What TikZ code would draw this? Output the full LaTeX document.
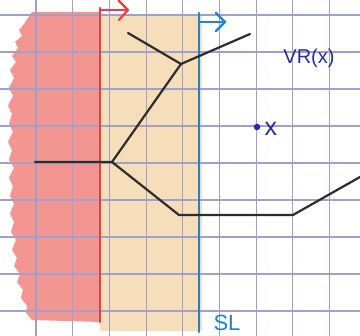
\documentclass[tikz,border=0pt]{standalone}
\usepackage{fontspec}
\setmainfont{Liberation Sans}
\definecolor{gridc}{RGB}{160,160,205}
\definecolor{redfill}{RGB}{243,150,145}
\definecolor{redline}{RGB}{238,60,70}
\definecolor{orfill}{RGB}{247,222,186}
\definecolor{blueline}{RGB}{25,135,210}
\definecolor{inkblue}{RGB}{35,45,165}
\definecolor{pencil}{RGB}{45,45,45}
\tikzset{
  gridline/.style={draw=gridc, line width=1.1pt},
  wall/.style={line width=2.2pt, line cap=round, line join=round},
  bisector/.style={draw=pencil, line width=2.2pt, line cap=round, line join=round},
  lbl/.style={inner sep=0pt, anchor=center}
}
\begin{document}
\begin{tikzpicture}[x=1pt,y=-1pt]
\useasboundingbox (0,0) rectangle (360,336);
\fill[white] (0,0) rectangle (360,336);
% orange region
\fill[orfill] (100,14) rectangle (202,331);
% red region with ragged left edge
\fill[redfill] (100,12) -- (32,12) -- (28,18) -- (24,24) -- (19,30) -- (22,36) -- (15,42) -- (18,48)
  -- (12,56) -- (16,62) -- (10,70) -- (14,78) -- (9,88) -- (13,96) -- (8,106) -- (12,114)
  -- (9,124) -- (13,132) -- (8,142) -- (12,150) -- (9,160) -- (14,168) -- (9,178) -- (13,186)
  -- (10,196) -- (14,204) -- (10,214) -- (14,222) -- (11,232) -- (16,240) -- (12,250)
  -- (17,258) -- (14,266) -- (20,274) -- (17,282) -- (23,290) -- (21,298) -- (27,306)
  -- (26,313) -- (32,320) -- (100,322) -- cycle;
% grid
\foreach \i in {0,...,9} {\draw[gridline] ({36+36.7*\i},0) -- ({36+36.7*\i},336);}
\foreach \j in {0,...,8} {\draw[gridline] (0,{15+37*\j}) -- (360,{15+37*\j});}
% red wall with arrow
\coordinate (rb) at (100,322);
\coordinate (rt) at (100,8);
\coordinate (ra) at (100,10);
\coordinate (rh) at (128,10);
\coordinate (rh1) at (119,1);
\coordinate (rh2) at (119,20);
\draw[wall, redline] (rb) -- (rt);
\draw[wall, redline] (ra) -- (rh);
\draw[wall, redline] (rh1) -- (rh) -- (rh2);
% blue sweep line with arrow
\coordinate (bb) at (199,332);
\coordinate (bt) at (199,13);
\coordinate (ba) at (199,22);
\coordinate (bh) at (225,22);
\coordinate (bh1) at (216,13);
\coordinate (bh2) at (216,31);
\draw[wall, blueline] (bb) -- (bt);
\draw[wall, blueline] (ba) -- (bh);
\draw[wall, blueline] (bh1) -- (bh) -- (bh2);
% beach line / bisectors
\coordinate (p1) at (128,33);
\coordinate (v1) at (181,64);
\coordinate (p2) at (250,34);
\coordinate (v2) at (112,162);
\coordinate (p3) at (35,162);
\coordinate (v3) at (179,215);
\coordinate (v4) at (293,215);
\coordinate (p4) at (360,177);
\draw[bisector] (p1) -- (v1) -- (p2);
\draw[bisector] (v1) -- (v2) -- (p3);
\draw[bisector] (v2) -- (v3) -- (v4) -- (p4);
% site x
\node[circle, fill=inkblue, inner sep=0pt, minimum size=6.5pt] (site) at (257,127) {};
\node[lbl, text=inkblue, font=\fontsize{25}{25}\selectfont] (xl) at (271,129) {x};
\node[lbl, text=inkblue, font=\fontsize{20}{20}\selectfont] (vr) at (309,58) {VR(x)};
\node[lbl, text=blueline, font=\fontsize{22}{22}\selectfont] (sl) at (227,323) {SL};
\end{tikzpicture}
\end{document}
